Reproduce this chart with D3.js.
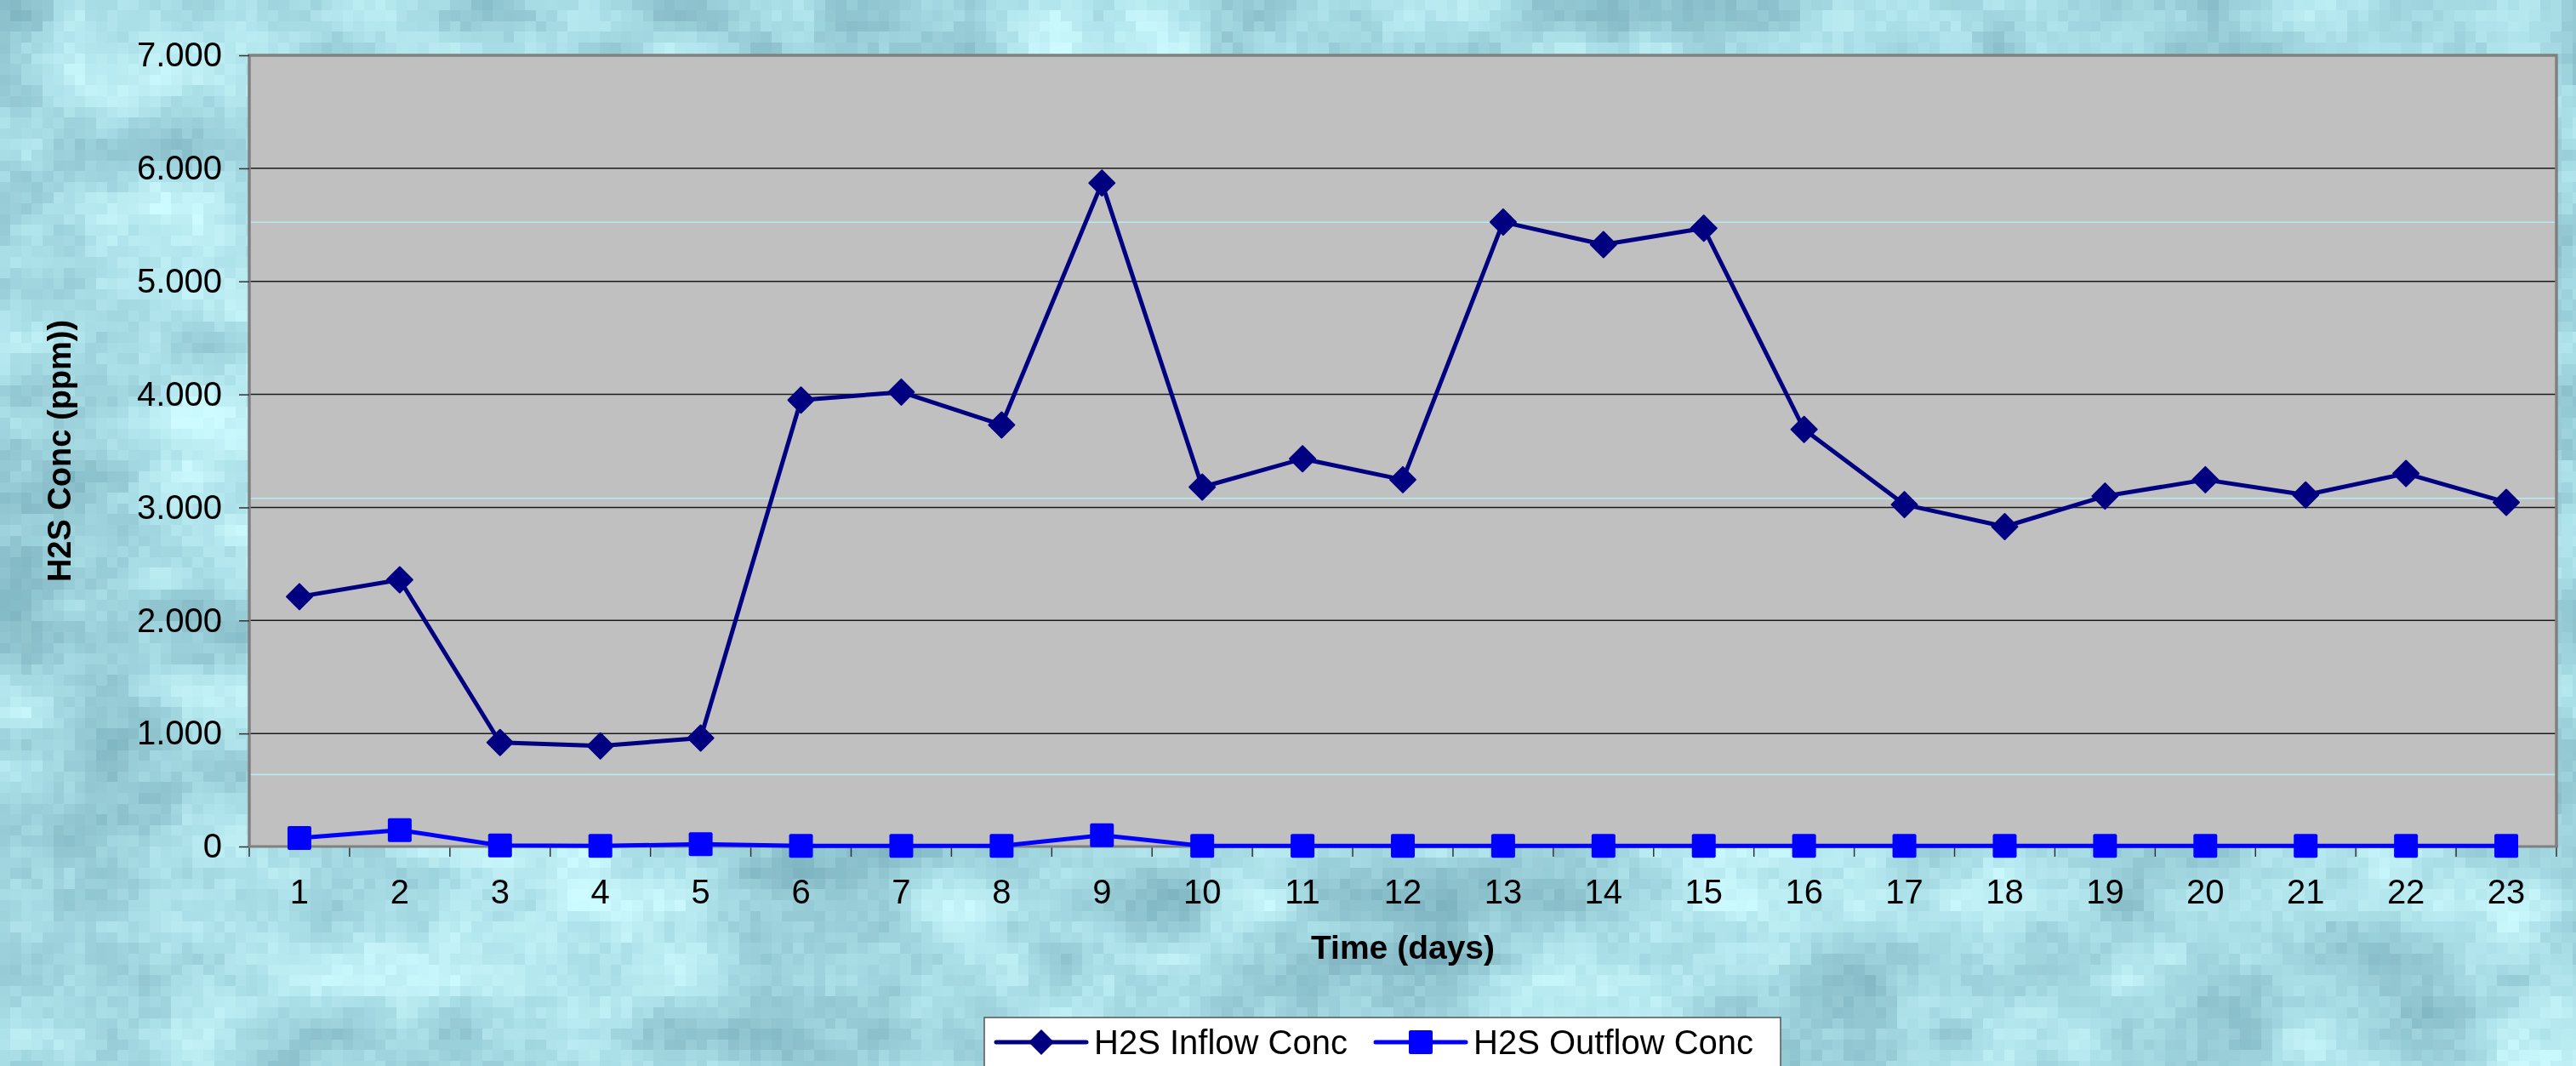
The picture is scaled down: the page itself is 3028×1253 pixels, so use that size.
<!DOCTYPE html>
<html>
<head>
<meta charset="utf-8">
<script src="https://cdn.jsdelivr.net/npm/d3@7"></script>
<style>
  html, body { margin: 0; padding: 0; background: #aadde6; }
  #wrap { position: relative; width: 3028px; height: 1253px; overflow: hidden; }
  #bg { position: absolute; left: 0; top: 0; }
  svg { position: absolute; left: 0; top: 0; }
  text { font-family: "Liberation Sans", Arial, sans-serif; fill: #000; }
</style>
</head>
<body>
<div id="wrap">
  <canvas id="bg" width="3028" height="1253"></canvas>
  <svg id="chart" width="3028" height="1253"></svg>
</div>
<script>
// Daily H2S concentrations (ppm)
const days = d3.range(1, 24);
const inflowConc = [2210, 2360, 920, 890, 960, 3950, 4020, 3730, 5870, 3180, 3430, 3245,
                     5525, 5325, 5470, 3690, 3025, 2830, 3100, 3245, 3110, 3300, 3045];
const outflowConc = [75, 145, 10, 5, 20, 5, 5, 5, 100, 5, 5, 5,
                     5, 5, 5, 5, 5, 5, 5, 5, 5, 5, 5];
const yTicks = [0, 1000, 2000, 3000, 4000, 5000, 6000, 7000];
const seriesNames = ["H2S Inflow Conc", "H2S Outflow Conc"];

const W = 3028, H = 1253;
const plot = { left: 293, right: 3005, top: 65, bottom: 995 };

// ---- pixelated water texture behind the chart ----
(function drawWater() {
  const ctx = document.getElementById("bg").getContext("2d");
  const cell = 12.6;
  function hash(i, j) {
    let h = (i * 374761393 + j * 668265263) | 0;
    h = (h ^ (h >>> 13)) * 1274126177 | 0;
    h = h ^ (h >>> 16);
    return ((h >>> 0) % 10000) / 10000;
  }
  function smooth(x, y, s) {
    const xi = Math.floor(x / s), yi = Math.floor(y / s);
    const fx = x / s - xi, fy = y / s - yi;
    const u = fx * fx * (3 - 2 * fx), v = fy * fy * (3 - 2 * fy);
    const a = hash(xi, yi), b = hash(xi + 1, yi), c = hash(xi, yi + 1), d = hash(xi + 1, yi + 1);
    return a + (b - a) * u + (c - a) * v + (a - b - c + d) * u * v;
  }
  const light = d3.rgb("#cdfbff"), mid = d3.rgb("#a6dbe4"), dark = d3.rgb("#78aebb");
  const cols = Math.ceil(W / cell), rows = Math.ceil(H / cell);
  for (let i = 0; i < cols; i++) {
    for (let j = 0; j < rows; j++) {
      const n = 0.55 * smooth(i, j * 1.4, 9) + 0.3 * smooth(i + 50, j * 1.6 + 30, 4) + 0.15 * hash(i + 7, j + 3);
      let c;
      if (n > 0.5) c = d3.interpolateRgb(mid, light)(Math.min(1, (n - 0.5) * 2.6));
      else c = d3.interpolateRgb(mid, dark)(Math.min(1, (0.5 - n) * 2.2));
      ctx.fillStyle = c;
      ctx.fillRect(Math.floor(i * cell), Math.floor(j * cell), Math.ceil(cell) + 1, Math.ceil(cell) + 1);
    }
  }
})();

const svg = d3.select("#chart");

const x = d3.scaleBand().domain(days).range([plot.left, plot.right]).padding(0);
const y = d3.scaleLinear().domain([0, 7000]).range([plot.bottom, plot.top]);
const cx = d => x(d) + x.bandwidth() / 2;

const locale = d3.formatLocale({ decimal: ",", thousands: ".", grouping: [3], currency: ["", ""] });
const fmt = locale.format(",d");

// plot area
svg.append("rect")
  .attr("x", plot.left).attr("y", plot.top)
  .attr("width", plot.right - plot.left).attr("height", plot.bottom - plot.top)
  .attr("fill", "#c0c0c0");

// faint light seams across the plot area
const seams = [0.211, 0.560, 0.909];
svg.append("g").selectAll("line").data(seams).join("line")
  .attr("x1", plot.left).attr("x2", plot.right)
  .attr("y1", f => plot.top + f * (plot.bottom - plot.top))
  .attr("y2", f => plot.top + f * (plot.bottom - plot.top))
  .attr("stroke", "#b8eaf2").attr("stroke-width", 1.6);

// horizontal gridlines
svg.append("g").selectAll("line").data(yTicks.filter(t => t > 0 && t < 7000)).join("line")
  .attr("x1", plot.left).attr("x2", plot.right)
  .attr("y1", d => y(d)).attr("y2", d => y(d))
  .attr("stroke", "#1a1a1a").attr("stroke-width", 1.5);

// frame
svg.append("path")
  .attr("d", `M${plot.left},${plot.bottom} V${plot.top} H${plot.right} V${plot.bottom}`)
  .attr("fill", "none").attr("stroke", "#808080").attr("stroke-width", 3.5);

// y axis
const yAxis = svg.append("g")
  .attr("transform", `translate(${plot.left},0)`)
  .call(d3.axisLeft(y).tickValues(yTicks).tickFormat(fmt).tickSize(12).tickPadding(20));
yAxis.select(".domain").remove();
yAxis.selectAll(".tick line").attr("stroke", "#333").attr("stroke-width", 1.5);
yAxis.selectAll(".tick text")
  .attr("font-size", 40).attr("font-family", "Liberation Sans, Arial, sans-serif").attr("fill", "#000");

// x axis: ticks at category boundaries, labels centred in each band
const bounds = days.map(d => x(d)).concat([plot.right]);
svg.append("g").selectAll("line").data(bounds).join("line")
  .attr("x1", d => d).attr("x2", d => d)
  .attr("y1", plot.bottom).attr("y2", plot.bottom + 12)
  .attr("stroke", "#333").attr("stroke-width", 1.5);
svg.append("line")
  .attr("x1", plot.left - 1).attr("x2", plot.right + 2)
  .attr("y1", plot.bottom).attr("y2", plot.bottom)
  .attr("stroke", "#808080").attr("stroke-width", 3);
svg.append("g").selectAll("text").data(days).join("text")
  .attr("x", d => cx(d)).attr("y", 1062)
  .attr("text-anchor", "middle").attr("font-size", 40)
  .text(d => d);

// axis titles
svg.append("text")
  .attr("x", (plot.left + plot.right) / 2).attr("y", 1127)
  .attr("text-anchor", "middle").attr("font-size", 39).attr("font-weight", "bold")
  .text("Time (days)");
svg.append("text")
  .attr("transform", `translate(83,${(plot.top + plot.bottom) / 2}) rotate(-90)`)
  .attr("text-anchor", "middle").attr("font-size", 38).attr("font-weight", "bold")
  .text("H2S Conc (ppm))");

// series
const line = d3.line().x((d, i) => cx(days[i])).y(d => y(d));
const diamond = s => `M0,${-s} L${s},0 L0,${s} L${-s},0 Z`;

svg.append("path").datum(outflowConc)
  .attr("d", line).attr("fill", "none")
  .attr("stroke", "#0000ff").attr("stroke-width", 5).attr("stroke-linejoin", "round");
svg.append("g").selectAll("rect").data(outflowConc).join("rect")
  .attr("x", (d, i) => cx(days[i]) - 14).attr("y", d => y(d) - 14)
  .attr("width", 28).attr("height", 28).attr("rx", 2)
  .attr("fill", "#0000ff");

svg.append("path").datum(inflowConc)
  .attr("d", line).attr("fill", "none")
  .attr("stroke", "#000080").attr("stroke-width", 5).attr("stroke-linejoin", "round");
svg.append("g").selectAll("path").data(inflowConc).join("path")
  .attr("transform", (d, i) => `translate(${cx(days[i])},${y(d)})`)
  .attr("d", diamond(15)).attr("fill", "#000080")
  .attr("stroke", "#000080").attr("stroke-width", 2).attr("stroke-linejoin", "round");

// legend
const lg = svg.append("g");
lg.append("rect")
  .attr("x", 1157).attr("y", 1196).attr("width", 936).attr("height", 80)
  .attr("fill", "#ffffff").attr("stroke", "#555").attr("stroke-width", 1.5);
const legendItems = [
  { name: seriesNames[0], color: "#000080", shape: "diamond", x0: 1171 },
  { name: seriesNames[1], color: "#0000ff", shape: "square", x0: 1617 }
];
const li = lg.selectAll("g").data(legendItems).join("g")
  .attr("transform", d => `translate(${d.x0},1225)`);
li.append("line").attr("x1", 0).attr("x2", 106).attr("y1", 0).attr("y2", 0)
  .attr("stroke", d => d.color).attr("stroke-width", 5).attr("stroke-linecap", "round");
li.filter(d => d.shape === "diamond").append("path")
  .attr("transform", "translate(53,0)").attr("d", diamond(15))
  .attr("fill", d => d.color);
li.filter(d => d.shape === "square").append("rect")
  .attr("x", 39).attr("y", -14).attr("width", 28).attr("height", 28).attr("rx", 2)
  .attr("fill", d => d.color);
li.append("text").attr("x", 115).attr("y", 14)
  .attr("font-size", 40).text(d => d.name);
</script>
</body>
</html>
